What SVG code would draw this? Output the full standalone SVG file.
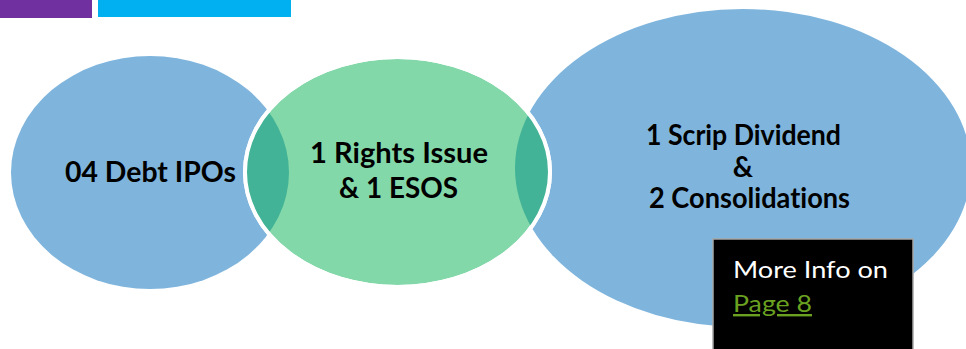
<svg xmlns="http://www.w3.org/2000/svg" width="966" height="349" viewBox="0 0 966 349">
<style>
text{font-variant-ligatures:none}
.lbl{font-family:Lato,"Liberation Sans",sans-serif;font-weight:bold;font-size:28px;fill:#000}
.info{font-family:Lato,"Liberation Sans",sans-serif;font-size:24px}
</style>
<defs>
<clipPath id="blueClip">
<ellipse cx="150" cy="172.5" rx="139" ry="116.5"/>
<ellipse cx="743" cy="168" rx="228" ry="159"/>
</clipPath>
</defs>
<rect id="bar-purple" x="0" y="0" width="92" height="18" fill="#7030A0"/>
<rect id="bar-cyan" x="98" y="0" width="193" height="17" fill="#00B0F0"/>
<g id="node-debt-ipos">
<ellipse cx="150" cy="172.5" rx="139" ry="116.5" fill="#7FB5DD"/>
</g>
<g id="node-scrip">
<ellipse cx="743" cy="168" rx="228" ry="159" fill="#7FB5DD"/>
</g>
<g id="node-rights">
<ellipse cx="397.5" cy="172" rx="152.5" ry="115" fill="#83D8A9" stroke="#fff" stroke-width="4"/>
<ellipse cx="397.5" cy="172" rx="152.5" ry="115" fill="#42B396" clip-path="url(#blueClip)"/>
<ellipse cx="397.5" cy="172" rx="152.5" ry="115" fill="none" stroke="#fff" stroke-width="4"/>
</g>
<g id="labels">
<text class="lbl" x="65" y="182" textLength="171" lengthAdjust="spacingAndGlyphs">04 Debt IPOs</text>
<text class="lbl" x="310" y="163" textLength="178" lengthAdjust="spacingAndGlyphs">1 Rights Issue</text>
<text class="lbl" x="339" y="198" textLength="119" lengthAdjust="spacingAndGlyphs">&amp; 1 ESOS</text>
<text class="lbl" x="646" y="145" textLength="195" lengthAdjust="spacingAndGlyphs">1 Scrip Dividend</text>
<text class="lbl" x="743" y="177" text-anchor="middle">&amp;</text>
<text class="lbl" x="649" y="208" textLength="201" lengthAdjust="spacingAndGlyphs">2 Consolidations</text>
</g>
<g id="node-info">
<rect x="713" y="239" width="200" height="115" fill="#000" stroke="#A6A6A6" stroke-width="1.5"/>
<text class="info" x="733" y="278" fill="#fff" textLength="155" lengthAdjust="spacingAndGlyphs">More Info on</text>
<text class="info" x="733" y="312" fill="#6AA121" text-decoration="underline" textLength="79" lengthAdjust="spacingAndGlyphs">Page 8</text>
</g>
<g id="connectors"></g>
</svg>
